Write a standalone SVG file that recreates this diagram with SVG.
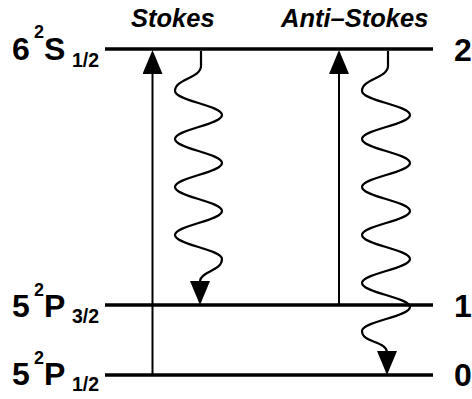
<svg xmlns="http://www.w3.org/2000/svg" width="472" height="399" viewBox="0 0 472 399">
  <style>
    .lvl { stroke: #000; stroke-width: 3.6; fill: none; }
    .ray { stroke: #000; stroke-width: 2; fill: none; marker-end: url(#head); }
    .wave { stroke: #000; stroke-width: 2.2; fill: none; marker-end: url(#head); }
    .lab { font-family: "Liberation Sans", Arial, Helvetica, sans-serif; font-weight: bold; fill: #000; }
    .big { font-size: 32px; }
    .sup { font-size: 18px; }
    .sub { font-size: 19.5px; }
    .title { font-size: 25.5px; font-style: italic; }
  </style>
  <defs>
    <marker id="head" markerUnits="userSpaceOnUse" viewBox="0 0 24 20" markerWidth="24" markerHeight="20" refX="20" refY="10" orient="auto">
      <path d="M0,0 L24,10 L0,20 Z" fill="#000"/>
    </marker>
  </defs>
  <rect width="472" height="399" fill="#fff"/>

  <!-- process titles -->
  <g id="title-stokes"><text class="lab title" x="131" y="27">Stokes</text></g>
  <g id="title-antistokes"><text class="lab title" x="281" y="27">Anti–Stokes</text></g>

  <!-- energy levels: line, term symbol on the left, index on the right -->
  <g id="level-6S">
    <line class="lvl" x1="105" y1="49" x2="433" y2="49"/>
    <text class="lab"><tspan class="big" x="12" y="60">6</tspan><tspan class="sup" x="34" y="38">2</tspan><tspan class="big" x="44" y="60">S</tspan><tspan class="sub" x="72" y="67">1/2</tspan></text>
    <text class="lab big" x="454" y="61">2</text>
  </g>
  <g id="level-5P32">
    <line class="lvl" x1="105" y1="305" x2="433" y2="305"/>
    <text class="lab"><tspan class="big" x="12" y="317">5</tspan><tspan class="sup" x="34" y="296">2</tspan><tspan class="big" x="44" y="317">P</tspan><tspan class="sub" x="72" y="323">3/2</tspan></text>
    <text class="lab big" x="454" y="317">1</text>
  </g>
  <g id="level-5P12">
    <line class="lvl" x1="105" y1="375" x2="433" y2="375"/>
    <text class="lab"><tspan class="big" x="12" y="385">5</tspan><tspan class="sup" x="34" y="364">2</tspan><tspan class="big" x="44" y="385">P</tspan><tspan class="sub" x="72" y="391">1/2</tspan></text>
    <text class="lab big" x="454" y="386">0</text>
  </g>

  <!-- transitions: straight pump arrows and wavy emission arrows -->
  <g id="connectors">
    <path class="ray" d="M152.5,375 V54"/>
    <path class="wave" d="M201,51 L201,66 C201,78 175,79 175,91 C175,100.6 222,105.4 222,115 S175,129.4 175,139 S222,153.4 222,163 S175,177.4 175,187 S222,201.4 222,211 S175,225.4 175,235 S222,249.4 222,259 C222,271 201,271 200,281 L200,301"/>
    <path class="ray" d="M339,305 V54"/>
    <path class="wave" d="M388,51 L388,66 C388,78 362,79 362,91 C362,100.6 410,105.4 410,115 S362,129.4 362,139 S410,153.4 410,163 S362,177.4 362,187 S410,201.4 410,211 S362,225.4 362,235 S410,249.4 410,259 S362,273.4 362,283 S410,297.4 410,307 S362,321.4 362,331 C362,343 386,341 387,352 L387,371"/>
  </g>
</svg>
